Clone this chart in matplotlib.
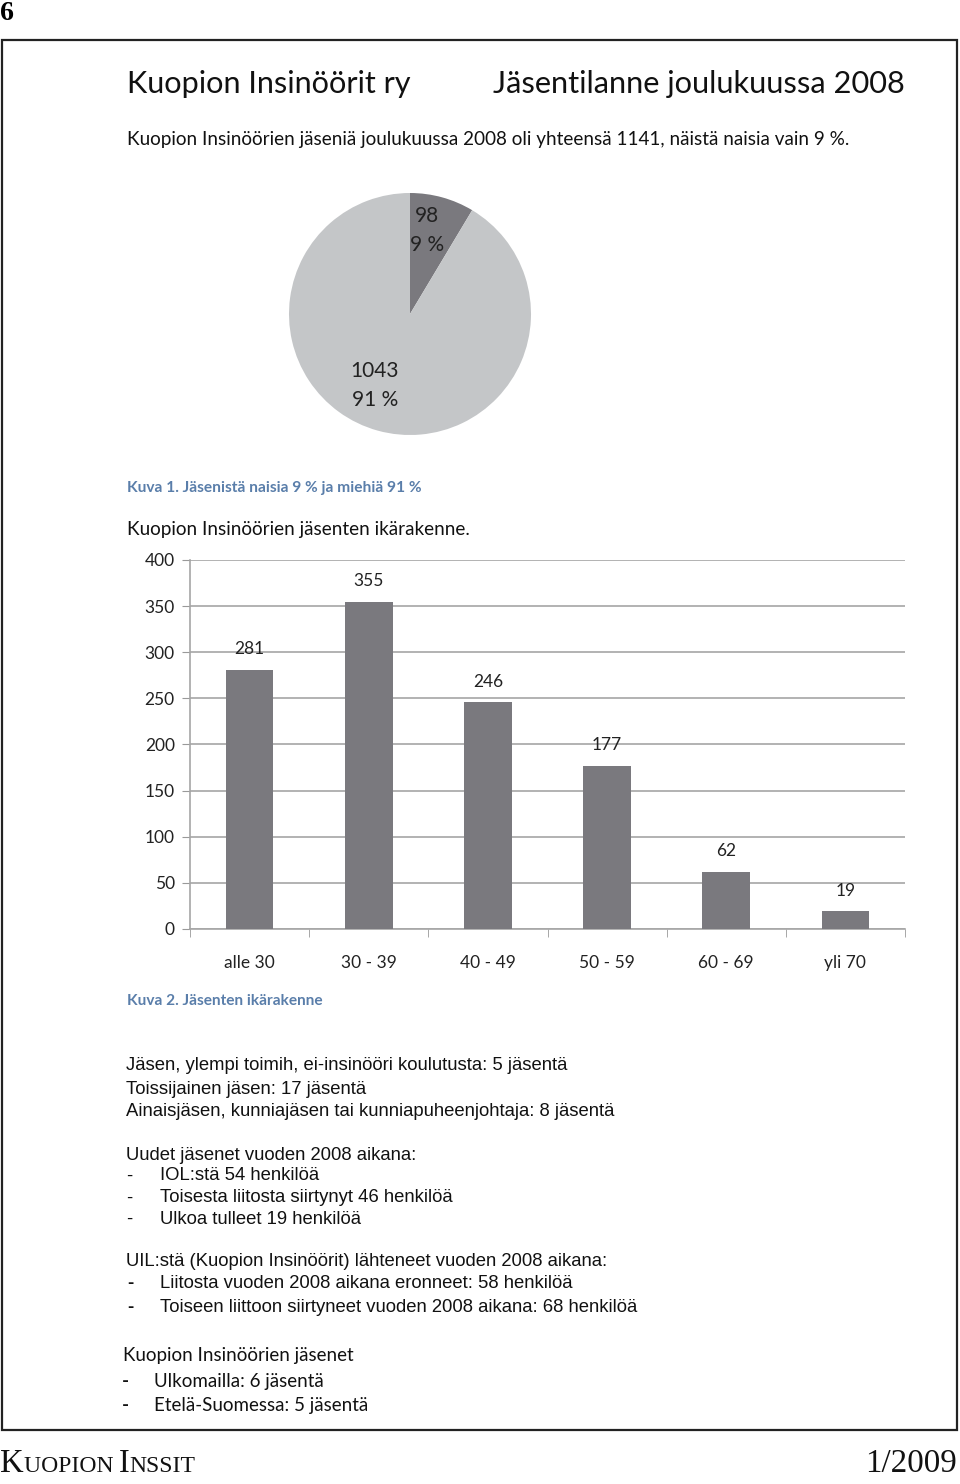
import matplotlib
matplotlib.use("Agg")
import matplotlib.pyplot as plt
from matplotlib.patches import Rectangle

W, H = 960, 1484

# Data
gender_counts = [98, 1043]
gender_labels = ["98\n9 %", "1043\n91 %"]
age_groups = ["alle 30", "30 - 39", "40 - 49", "50 - 59", "60 - 69", "yli 70"]
age_counts = [281, 355, 246, 177, 62, 19]
y_ticks = [0, 50, 100, 150, 200, 250, 300, 350, 400]

info_lines = [
    "Jäsen, ylempi toimih, ei-insinööri koulutusta: 5 jäsentä",
    "Toissijainen jäsen: 17 jäsentä",
    "Ainaisjäsen, kunniajäsen tai kunniapuheenjohtaja: 8 jäsentä",
]
new_members = ["IOL:stä 54 henkilöä", "Toisesta liitosta siirtynyt 46 henkilöä",
               "Ulkoa tulleet 19 henkilöä"]
left_members = ["Liitosta vuoden 2008 aikana eronneet: 58 henkilöä",
                "Toiseen liittoon siirtyneet vuoden 2008 aikana: 68 henkilöä"]
location_members = ["Ulkomailla: 6 jäsentä", "Etelä-Suomessa: 5 jäsentä"]

CALIBRI = ["Lato", "DejaVu Sans"]
ARIAL = ["Liberation Sans", "DejaVu Sans"]
SERIF = ["Liberation Serif", "DejaVu Serif"]
CAPTION = "#5a7eaa"
DARK = "#7a797e"
LIGHT = "#c4c6c8"
INK = "#111111"

fig = plt.figure(figsize=(W / 100, H / 100), dpi=100)
renderer = fig.canvas.get_renderer()


def put(x, y, s, size=12, family=CALIBRI, ha="left", va="center", **kw):
    return fig.text(x / W, 1 - y / H, s, fontsize=size, family=family,
                    ha=ha, va=va, **kw)


def fit(t, width_px):
    # scale the font so the text spans the measured width
    w = t.get_window_extent(renderer).width
    t.set_fontsize(t.get_fontsize() * width_px / w)
    return t.get_fontsize()


# page number and frame
fit(put(0, 13, "6", family=SERIF, weight="bold"), 14)
fig.patches.append(Rectangle((2 / W, 1 - 1430 / H), 955 / W, 1390 / H,
                             transform=fig.transFigure, fill=False,
                             edgecolor="#222222", linewidth=1.6))

# header
fit(put(127, 84, "Kuopion Insinöörit ry", color=INK), 283)
fit(put(905, 84, "Jäsentilanne joulukuussa 2008", ha="right", color=INK), 411)
fit(put(127, 140, "Kuopion Insinöörien jäseniä joulukuussa 2008 oli yhteensä 1141, "
        "näistä naisia vain 9 %.", color=INK), 718)

# pie chart
r = 121
cx, cy = 410, 314
ax_pie = fig.add_axes([(cx - r) / W, 1 - (cy + r) / H, 2 * r / W, 2 * r / H])
wedges, texts = ax_pie.pie(gender_counts, labels=gender_labels, colors=[DARK, LIGHT],
                           startangle=90, counterclock=False, labeldistance=0.7,
                           textprops=dict(ha="center", va="center", family=CALIBRI,
                                          fontsize=15, color="#222222", linespacing=1.55))
texts[0].set_position((0.14, 0.69))
texts[1].set_position((-0.29, -0.59))
ax_pie.set_xlim(-1, 1)
ax_pie.set_ylim(-1, 1)

fit(put(127, 488, "Kuva 1. Jäsenistä naisia 9 % ja miehiä 91 %", weight="bold",
        color=CAPTION), 292)
fit(put(127, 529, "Kuopion Insinöörien jäsenten ikärakenne.", color=INK), 342)

# bar chart
x0, x1, ytop, ybot = 190, 905, 560, 929
ax = fig.add_axes([x0 / W, 1 - ybot / H, (x1 - x0) / W, (ybot - ytop) / H])
pos = range(len(age_groups))
bars = ax.bar(pos, age_counts, width=0.4, color=DARK, zorder=3)
ax.bar_label(bars, padding=9, fontsize=12.5, family=CALIBRI, color="#222222")
ax.set_xlim(-0.5, len(age_groups) - 0.5)
ax.set_ylim(0, 400)
ax.set_yticks(y_ticks)
ax.set_xticks(list(pos))
ax.set_xticklabels(age_groups)
ax.set_xticks([i - 0.5 for i in range(len(age_groups) + 1)], minor=True)
ax.tick_params(axis="x", which="major", length=0, pad=19, labelsize=12.5)
ax.tick_params(axis="x", which="minor", length=6, color="#999999")
ax.tick_params(axis="y", length=6, color="#999999", pad=5, labelsize=12.5)
for lab in ax.get_xticklabels() + ax.get_yticklabels():
    lab.set_family(CALIBRI)
    lab.set_color("#222222")
ax.yaxis.grid(True, color="#a6a6a6", linewidth=1.2)
ax.set_axisbelow(True)
for side in ["top", "right"]:
    ax.spines[side].set_visible(False)
for side in ["left", "bottom"]:
    ax.spines[side].set_color("#a6a6a6")
    ax.spines[side].set_linewidth(1.2)

fit(put(127, 1001, "Kuva 2. Jäsenten ikärakenne", weight="bold", color=CAPTION), 195)

# membership notes
body = fit(put(126, 1066, info_lines[0], family=ARIAL, color=INK), 442)
for y, s in zip([1089, 1112], info_lines[1:]):
    put(126, y, s, size=body, family=ARIAL, color=INK)

put(126, 1155, "Uudet jäsenet vuoden 2008 aikana:", size=body, family=ARIAL, color=INK)
for y, s in zip([1176, 1198, 1219], new_members):
    put(126, y, "-", size=body, family=ARIAL, color=INK)
    put(160, y, s, size=body, family=ARIAL, color=INK)

put(126, 1262, "UIL:stä (Kuopion Insinöörit) lähteneet vuoden 2008 aikana:", size=body,
    family=ARIAL, color=INK)
for y, s in zip([1284, 1308], left_members):
    put(127, y, "-", size=body, family=ARIAL, color=INK, weight="bold")
    put(160, y, s, size=body, family=ARIAL, color=INK)

cal = fit(put(123, 1356, "Kuopion Insinöörien jäsenet", color=INK), 230)
for y, s in zip([1381, 1406], location_members):
    put(122, y, "-", size=cal, color=INK, weight="bold")
    put(154, y, s, size=cal, color=INK)

# footer in small caps
fx = 0
for part, big in [("K", True), ("UOPION ", False), ("I", True), ("NSSIT", False)]:
    t = put(fx, 1472, part, size=23.5 if big else 17, family=SERIF, va="baseline",
            color=INK)
    fx += t.get_window_extent(renderer).width
fit(put(957, 1472, "1/2009", ha="right", va="baseline", family=SERIF, color=INK), 91)

fig.savefig("out.png", dpi=100)
